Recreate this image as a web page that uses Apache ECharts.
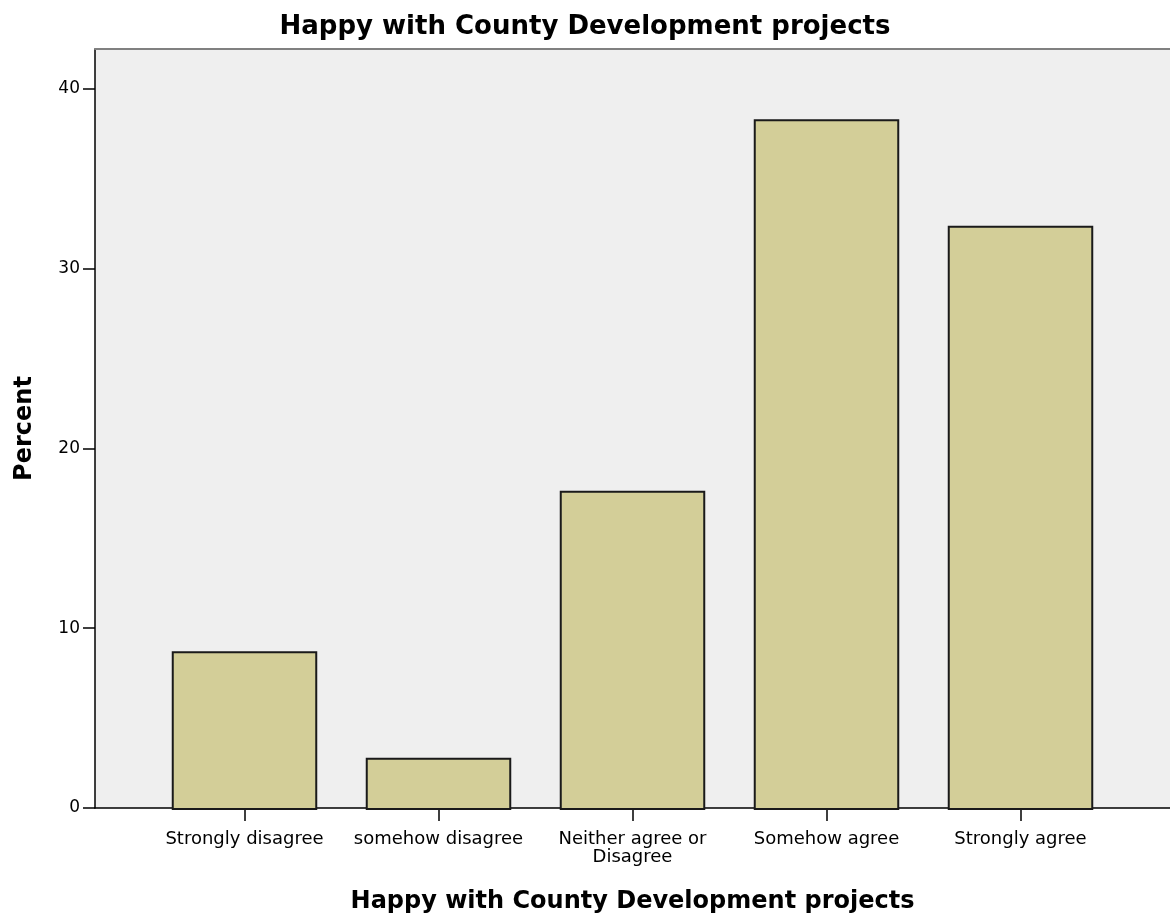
<!DOCTYPE html>
<html>
<head>
<meta charset="utf-8">
<script src="https://cdn.jsdelivr.net/npm/echarts@6/dist/echarts.min.js"></script>
<style>
html,body{margin:0;padding:0;background:#fff;}
#chart{width:1170px;height:919px;}
</style>
</head>
<body>
<div id="chart"></div>
<script>
var titleText = 'Happy with County Development projects';
var xAxisTitle = 'Happy with County Development projects';
var yAxisTitle = 'Percent';
var categories = ['Strongly disagree', 'somehow disagree', 'Neither agree or\nDisagree', 'Somehow agree', 'Strongly agree'];
var percentValues = [8.8, 2.9, 17.7, 38.3, 32.4];
var yTicks = [0, 10, 20, 30, 40];

var yMax = 42.2;
var chart = echarts.init(document.getElementById('chart'));
var option = {
  animation: false,
  backgroundColor: '#ffffff',
  textStyle: { fontFamily: 'DejaVu Sans' },
  title: {
    text: titleText,
    left: 'center',
    top: 9,
    textStyle: { fontFamily: 'DejaVu Sans', fontWeight: 'bold', fontSize: 26, color: '#000' }
  },
  grid: [
    { left: 95, right: 0, top: 49, bottom: 109, show: true, backgroundColor: '#efefef', borderWidth: 0 },
    { left: 147.5, right: 52.5, top: 49, bottom: 109 }
  ],
  xAxis: [
    { gridIndex: 0, type: 'value', min: 0, max: 1, position: 'bottom',
      axisLine: { show: true, onZero: false, lineStyle: { color: '#000', width: 1.5 } },
      axisTick: { show: false }, axisLabel: { show: false }, splitLine: { show: false },
      name: xAxisTitle, nameLocation: 'middle', nameGap: 82,
      nameTextStyle: { fontFamily: 'DejaVu Sans', fontWeight: 'bold', fontSize: 24, color: '#000' } },
    { gridIndex: 0, type: 'value', min: 0, max: 1, position: 'top',
      axisLine: { show: true, onZero: false, lineStyle: { color: '#808080', width: 2 } },
      axisTick: { show: false }, axisLabel: { show: false }, splitLine: { show: false } },
    { gridIndex: 1, type: 'category', data: categories, boundaryGap: true,
      axisLine: { show: false },
      axisTick: { show: true, alignWithLabel: true, length: 11, lineStyle: { color: '#000', width: 1.5 } },
      axisLabel: { margin: 20, fontFamily: 'DejaVu Sans', fontSize: 18, color: '#000', lineHeight: 18, interval: 0 } }
  ],
  yAxis: [
    { gridIndex: 0, type: 'value', min: 0, max: yMax, interval: 10,
      axisLine: { show: true, lineStyle: { color: '#000', width: 1.5 } },
      axisTick: { show: true, length: 12, customValues: yTicks, lineStyle: { color: '#000', width: 1.5 } },
      axisLabel: { margin: 15, fontFamily: 'DejaVu Sans', fontSize: 17, color: '#000', customValues: yTicks },
      splitLine: { show: false },
      name: yAxisTitle, nameLocation: 'middle', nameGap: 58,
      nameTextStyle: { fontFamily: 'DejaVu Sans', fontWeight: 'bold', fontSize: 24, color: '#000' } },
    { gridIndex: 1, type: 'value', min: 0, max: yMax, show: false }
  ],
  series: [{
    type: 'bar',
    xAxisIndex: 2,
    yAxisIndex: 1,
    data: percentValues,
    barCategoryGap: '25%',
    itemStyle: { color: '#d3ce98', borderColor: '#1a1a1a', borderWidth: 2 }
  }]
};
chart.setOption(option);
</script>
</body>
</html>
